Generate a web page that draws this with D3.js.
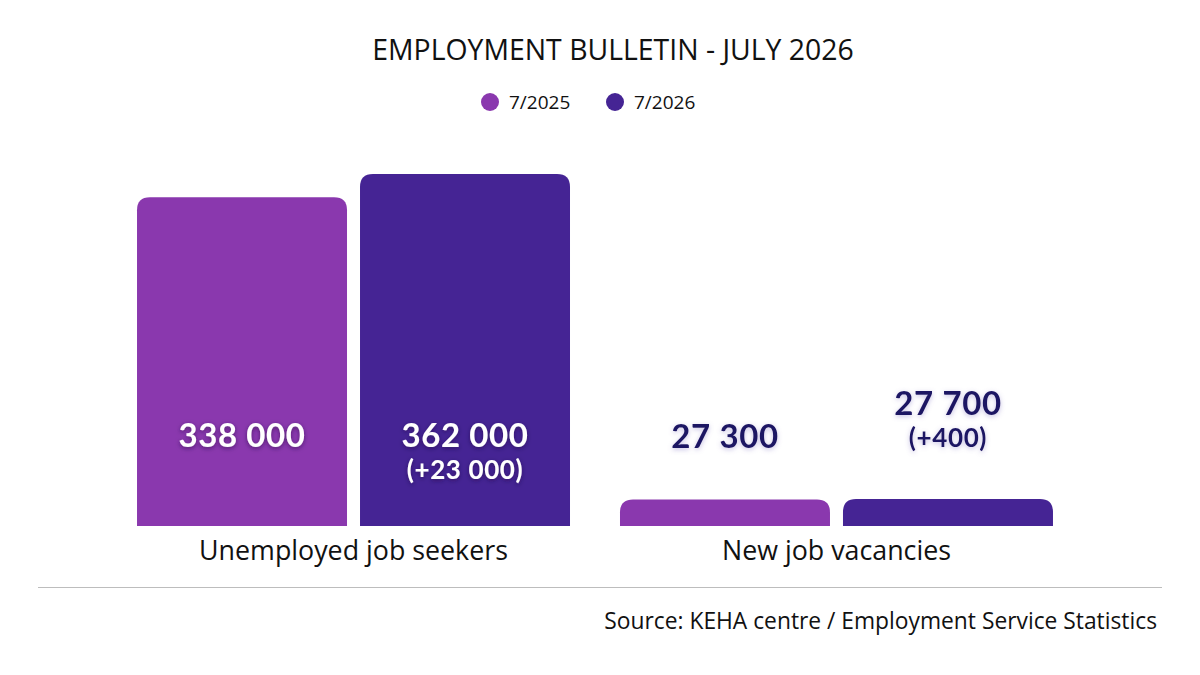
<!DOCTYPE html>
<html>
<head>
<meta charset="utf-8">
<script src="https://cdn.jsdelivr.net/npm/d3@7"></script>
<style>
  body { margin: 0; background: #fff; }
  text { font-family: "Open Sans", "Noto Sans", sans-serif; }
  .val { font-family: Lato, "Noto Sans", sans-serif; font-weight: 700; }
</style>
</head>
<body>
<div id="chart-area"></div>
<script>
let categories = ["Unemployed job seekers", "New job vacancies"]
let periods = ["7/2025", "7/2026"]
let values2025 = [338000, 27300]
let values2026 = [362000, 27700]
let changes = ["+23 000", "+400"]
let colors = ["#8a38ae", "#452494"]

let width = 1200, height = 675
let baseline = 526

let svg = d3.select("#chart-area").append("svg")
  .attr("width", width)
  .attr("height", height)

// shadows for the value labels
let defs = svg.append("defs")
defs.append("filter").attr("id", "shadowDark")
  .attr("x", "-20%").attr("y", "-40%").attr("width", "140%").attr("height", "180%")
  .append("feDropShadow")
    .attr("dx", 0).attr("dy", 1.5).attr("stdDeviation", 2)
    .attr("flood-color", "#1a0a3a").attr("flood-opacity", 0.55)
defs.append("filter").attr("id", "shadowLight")
  .attr("x", "-20%").attr("y", "-40%").attr("width", "140%").attr("height", "180%")
  .append("feDropShadow")
    .attr("dx", 0).attr("dy", 1.5).attr("stdDeviation", 2.5)
    .attr("flood-color", "#7a6fc0").attr("flood-opacity", 0.45)

// title
svg.append("text")
  .attr("x", 613).attr("y", 60)
  .attr("text-anchor", "middle")
  .attr("font-size", "28.4px")
  .attr("fill", "#111")
  .text("EMPLOYMENT BULLETIN - JULY 2026")

// legend
let legendX = [490, 615]
periods.forEach((p, i) => {
  svg.append("circle")
    .attr("cx", legendX[i]).attr("cy", 102).attr("r", 9)
    .attr("fill", colors[i])
  svg.append("text")
    .attr("x", legendX[i] + 19).attr("y", 109)
    .attr("font-size", "19px")
    .attr("fill", "#111")
    .text(p)
})

let data = categories.map((c, i) => ({
  category: c,
  bars: [
    {period: periods[0], value: values2025[i], change: null},
    {period: periods[1], value: values2026[i], change: changes[i]}
  ]
}))

let x0 = d3.scaleBand()
  .domain(categories)
  .range([112, 1078])
  .paddingInner(0.1035)
  .paddingOuter(0.0518)

let x1 = d3.scaleBand()
  .domain(periods)
  .range([0, x0.bandwidth()])
  .paddingInner(0.0583)

let y = d3.scaleLinear()
  .domain([0, d3.max(values2026)])
  .range([baseline, 174])

// bar with rounded top corners
function topRounded(x, yTop, w, h, r) {
  r = Math.min(r, h, w / 2)
  return "M" + x + "," + (yTop + h) +
    "V" + (yTop + r) +
    "Q" + x + "," + yTop + " " + (x + r) + "," + yTop +
    "H" + (x + w - r) +
    "Q" + (x + w) + "," + yTop + " " + (x + w) + "," + (yTop + r) +
    "V" + (yTop + h) + "Z"
}

let groups = svg.selectAll("g.group")
  .data(data)
  .enter().append("g")
    .attr("class", "group")
    .attr("transform", d => "translate(" + x0(d.category) + ",0)")

groups.selectAll("path")
  .data(d => d.bars)
  .enter().append("path")
    .attr("d", b => topRounded(x1(b.period), y(b.value), x1.bandwidth(), baseline - y(b.value), 13))
    .attr("fill", (b, i) => colors[i])

let fmt = v => d3.format(",")(v).replace(/,/g, " ")

groups.each(function(d) {
  let g = d3.select(this)
  d.bars.forEach(b => {
    let cx = x1(b.period) + x1.bandwidth() / 2
    let h = baseline - y(b.value)
    let inside = h > 100
    let lines = [fmt(b.value)]
    if (b.change) lines.push("(" + b.change + ")")
    let firstY
    if (inside) {
      firstY = baseline - 91
    } else {
      firstY = y(b.value) - 63 - (lines.length - 1) * 33
    }
    let t = g.append("text")
      .attr("class", "val")
      .attr("text-anchor", "middle")
      .attr("letter-spacing", "0.6px")
      .attr("fill", inside ? "#ffffff" : "#1b1464")
      .attr("filter", inside ? "url(#shadowDark)" : "url(#shadowLight)")
    t.append("tspan")
      .attr("x", cx).attr("y", firstY + 12)
      .attr("font-size", "33px")
      .text(lines[0])
    if (lines.length > 1) {
      t.append("tspan")
        .attr("x", cx).attr("y", firstY + 44)
        .attr("font-size", "26px")
        .text(lines[1])
    }
  })
})

// category labels
svg.selectAll("text.cat")
  .data(categories)
  .enter().append("text")
    .attr("class", "cat")
    .attr("x", c => x0(c) + x0.bandwidth() / 2)
    .attr("y", 560)
    .attr("text-anchor", "middle")
    .attr("font-size", "26.8px")
    .attr("fill", "#111")
    .text(c => c)

// divider
svg.append("line")
  .attr("x1", 38).attr("x2", 1162)
  .attr("y1", 587.5).attr("y2", 587.5)
  .attr("stroke", "#bdbdbd").attr("stroke-width", 1)

// source
svg.append("text")
  .attr("x", 1157).attr("y", 629)
  .attr("text-anchor", "end")
  .attr("font-size", "22.8px")
  .attr("fill", "#111")
  .text("Source: KEHA centre / Employment Service Statistics")
</script>
</body>
</html>
